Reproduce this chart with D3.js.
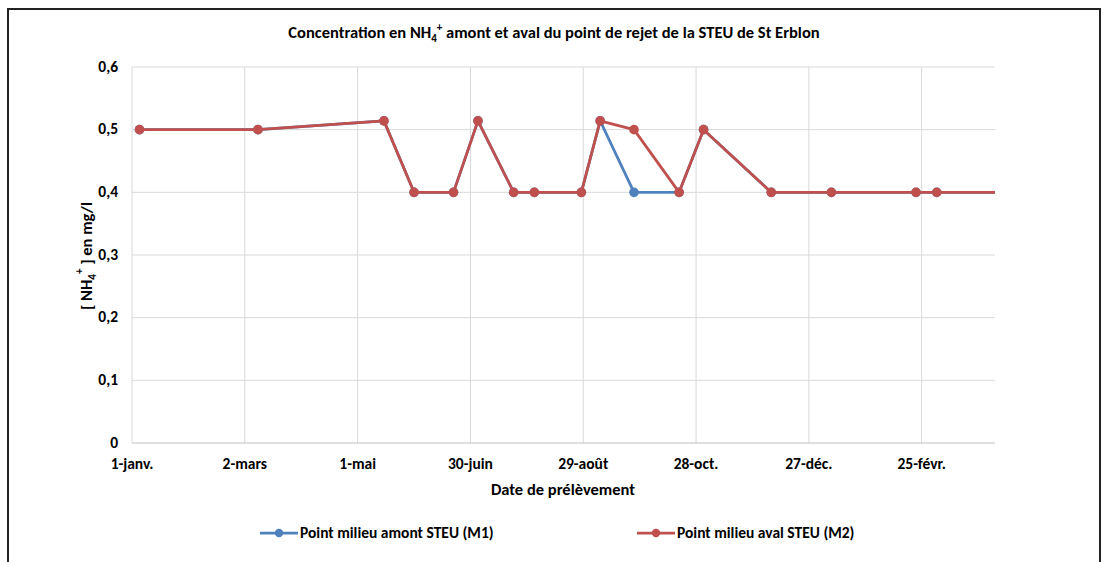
<!DOCTYPE html>
<html lang="fr">
<head>
<meta charset="UTF-8">
<title>Concentration en NH4+</title>
<script src="https://d3js.org/d3.v7.min.js"></script>
<style>
  body, html { margin: 0; padding: 0; background: #fff; overflow: hidden; }
  text { font-family: Carlito, Lato, "Open Sans", sans-serif; font-weight: bold; fill: #000; }
</style>
</head>
<body>
<svg id="chart"></svg>
<script>
// data
const sampleDates = ["2019-01-05", "2019-03-09", "2019-05-15", "2019-05-31", "2019-06-21",
  "2019-07-04", "2019-07-23", "2019-08-03", "2019-08-28", "2019-09-07", "2019-09-25",
  "2019-10-19", "2019-11-01", "2019-12-07", "2020-01-08", "2020-02-22", "2020-03-04", "2020-04-25"];
const amontM1 = [0.5, 0.5, 0.514, 0.4, 0.4, 0.514, 0.4, 0.4, 0.4, 0.514, 0.4, 0.4, 0.5, 0.4, 0.4, 0.4, 0.4, 0.4];
const avalM2  = [0.5, 0.5, 0.514, 0.4, 0.4, 0.514, 0.4, 0.4, 0.4, 0.514, 0.5, 0.4, 0.5, 0.4, 0.4, 0.4, 0.4, 0.4];
const xTickDates = ["2019-01-01", "2019-03-02", "2019-05-01", "2019-06-30", "2019-08-29", "2019-10-28", "2019-12-27", "2020-02-25"];
const xTickLabels = ["1-janv.", "2-mars", "1-mai", "30-juin", "29-août", "28-oct.", "27-déc.", "25-févr."];
const yTicks = [0, 0.1, 0.2, 0.3, 0.4, 0.5, 0.6];
const xStart = "2019-01-01", xEnd = "2020-04-04";

const width = 1103, height = 562;
const margin = { left: 132, right: 108, top: 67, bottom: 119 };

const svg = d3.select("#chart").attr("width", width).attr("height", height);

// outer frame
svg.append("rect")
  .attr("x", 8).attr("y", 9).attr("width", 1092).attr("height", 570)
  .attr("fill", "none").attr("stroke", "#222").attr("stroke-width", 2);

const parse = d3.timeParse("%Y-%m-%d");

const x = d3.scaleTime()
  .domain([parse(xStart), parse(xEnd)])
  .range([margin.left, width - margin.right]);

const y = d3.scaleLinear()
  .domain([0, 0.6])
  .range([height - margin.bottom, margin.top]);

// grid
svg.append("g").selectAll("line.h")
  .data(yTicks.slice(1)).join("line")
  .attr("x1", margin.left).attr("x2", width - margin.right)
  .attr("y1", d => y(d)).attr("y2", d => y(d))
  .attr("stroke", "#d9d9d9").attr("stroke-width", 1);

svg.append("g").selectAll("line.v")
  .data(xTickDates.slice(1)).join("line")
  .attr("x1", d => x(parse(d))).attr("x2", d => x(parse(d)))
  .attr("y1", margin.top).attr("y2", height - margin.bottom)
  .attr("stroke", "#d9d9d9").attr("stroke-width", 1);

// axis lines
svg.append("line")
  .attr("x1", margin.left).attr("x2", margin.left)
  .attr("y1", margin.top).attr("y2", height - margin.bottom)
  .attr("stroke", "#d9d9d9");
svg.append("line")
  .attr("x1", margin.left).attr("x2", width - margin.right)
  .attr("y1", height - margin.bottom).attr("y2", height - margin.bottom)
  .attr("stroke", "#bfbfbf");

// tick labels
const fmt = d3.format(".1f");
svg.append("g").selectAll("text")
  .data(yTicks).join("text")
  .attr("x", margin.left - 14)
  .attr("y", d => y(d))
  .attr("dy", "0.3em")
  .attr("text-anchor", "end")
  .style("font-size", "15.5px")
  .text(d => d === 0 ? "0" : fmt(d).replace(".", ","));

svg.append("g").selectAll("text")
  .data(xTickDates).join("text")
  .attr("x", d => x(parse(d)))
  .attr("y", height - margin.bottom + 26)
  .attr("text-anchor", "middle")
  .style("font-size", "15.5px")
  .text((d, i) => xTickLabels[i]);

// titles
const title = svg.append("text")
  .attr("x", 554).attr("y", 38)
  .attr("text-anchor", "middle")
  .style("font-size", "16.5px");
title.append("tspan").text("Concentration en NH");
title.append("tspan").attr("dy", 4).style("font-size", "11px").text("4");
title.append("tspan").attr("dy", -11).style("font-size", "11px").text("+");
title.append("tspan").attr("dy", 7).text(" amont et aval du point de rejet de la STEU de St Erblon");

svg.append("text")
  .attr("x", 563).attr("y", 495)
  .attr("text-anchor", "middle")
  .style("font-size", "16.5px")
  .text("Date de prélèvement");

const yt = svg.append("text")
  .attr("transform", "translate(92,256) rotate(-90)")
  .attr("text-anchor", "middle")
  .style("font-size", "16.5px");
yt.append("tspan").text("[ NH");
yt.append("tspan").attr("dy", 4).style("font-size", "11px").text("4");
yt.append("tspan").attr("dy", -13).style("font-size", "11px").text("+");
yt.append("tspan").attr("dy", 9).text(" ] en mg/l");

// series
svg.append("defs").append("clipPath").attr("id", "plot")
  .append("rect")
  .attr("x", margin.left - 8).attr("y", margin.top - 8)
  .attr("width", width - margin.right - margin.left + 8)
  .attr("height", height - margin.top - margin.bottom + 16);

const series = [
  { name: "Point milieu amont STEU (M1)", values: amontM1, color: "#4f81bd" },
  { name: "Point milieu aval STEU (M2)", values: avalM2, color: "#c0504d" }
];

const line = d3.line()
  .x(d => x(d.date))
  .y(d => y(d.v));

const plot = svg.append("g").attr("clip-path", "url(#plot)");
series.forEach(s => {
  const pts = sampleDates.map((d, i) => ({ date: parse(d), v: s.values[i] }));
  plot.append("path")
    .datum(pts)
    .attr("fill", "none")
    .attr("stroke", s.color)
    .attr("stroke-width", 2.75)
    .attr("stroke-linejoin", "round")
    .attr("d", line);
  plot.selectAll(null)
    .data(pts.filter(p => p.date <= parse(xEnd))).join("circle")
    .attr("cx", p => x(p.date))
    .attr("cy", p => y(p.v))
    .attr("r", 4.8)
    .attr("fill", s.color);
});

// legend
const legendX = [260, 637];
series.forEach((s, i) => {
  const g = svg.append("g").attr("transform", `translate(${legendX[i]},533)`);
  g.append("line").attr("x1", 0).attr("x2", 38).attr("y1", 0).attr("y2", 0)
    .attr("stroke", s.color).attr("stroke-width", 2.75);
  g.append("circle").attr("cx", 19).attr("cy", 0).attr("r", 4.2).attr("fill", s.color);
  g.append("text").attr("x", 40).attr("y", 0).attr("dy", "0.35em")
    .style("font-size", "15.5px").text(s.name);
});
</script>
</body>
</html>
